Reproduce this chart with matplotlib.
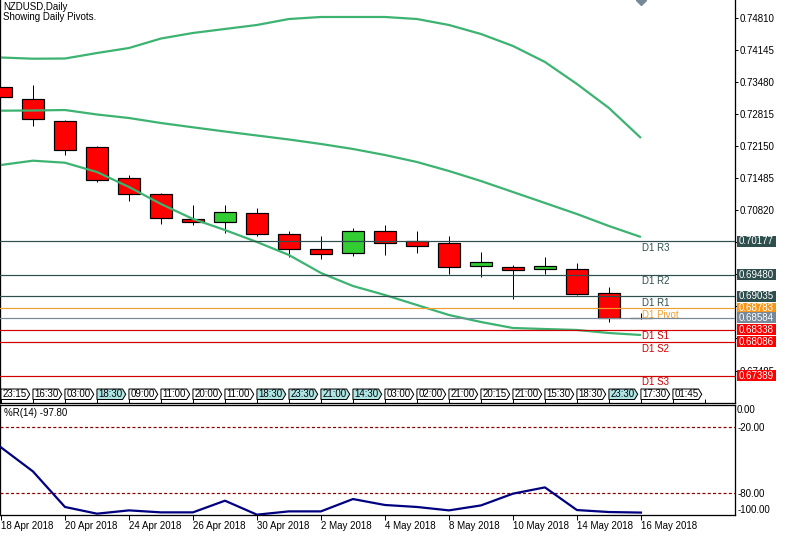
import matplotlib
matplotlib.use('Agg')
import matplotlib.pyplot as plt
import matplotlib.transforms as mtransforms
from matplotlib.patches import Polygon, Rectangle

plt.rcParams['font.family'] = ['Liberation Sans', 'DejaVu Sans']
plt.rcParams['lines.scale_dashes'] = False

# ---------------- data ----------------
bars = list(range(21))
opens = [0.73371, 0.73122, 0.72672, 0.72126, 0.71483, 0.71150, 0.70631, 0.70582, 0.70756, 0.70320,
         0.70009, 0.69926, 0.70389, 0.70175, 0.70133, 0.69656, 0.69635, 0.69593, 0.69593, 0.69095, 0.68584]
highs = [0.73380, 0.73419, 0.72693, 0.72153, 0.71551, 0.71184, 0.70928, 0.70928, 0.70866, 0.70395,
         0.70291, 0.70451, 0.70513, 0.70389, 0.70291, 0.69953, 0.69677, 0.69849, 0.69724, 0.69226, 0.68687]
lows = [0.73160, 0.72574, 0.71972, 0.71406, 0.71018, 0.70534, 0.70519, 0.70353, 0.70291, 0.69849,
        0.69807, 0.69876, 0.69890, 0.69926, 0.69502, 0.69440, 0.68983, 0.69496, 0.69060, 0.68506, 0.68560]
closes = [0.73164, 0.72707, 0.72064, 0.71441, 0.71150, 0.70652, 0.70582, 0.70789, 0.70320, 0.70009,
          0.69905, 0.70389, 0.70146, 0.70083, 0.69648, 0.69739, 0.69585, 0.69656, 0.69087, 0.68580, 0.68584]

band_upper = [0.73990, 0.73965, 0.73969, 0.74083, 0.74187, 0.74384, 0.74499, 0.74582, 0.74665, 0.74789,
              0.74831, 0.74831, 0.74831, 0.74789, 0.74665, 0.74478, 0.74229, 0.73897, 0.73440, 0.72942, 0.72319]
band_middle = [0.72886, 0.72890, 0.72900, 0.72807, 0.72734, 0.72630, 0.72541, 0.72454, 0.72371, 0.72288,
               0.72195, 0.72091, 0.71966, 0.71821, 0.71634, 0.71426, 0.71198, 0.70970, 0.70741, 0.70492, 0.70264]
band_lower = [0.71759, 0.71848, 0.71806, 0.71613, 0.71302, 0.70949, 0.70638, 0.70409, 0.70160, 0.69890,
              0.69517, 0.69247, 0.69060, 0.68852, 0.68645, 0.68500, 0.68375, 0.68354, 0.68334, 0.68271, 0.68230]

pivot_names = ['D1 R3', 'D1 R2', 'D1 R1', 'D1 Pivot', 'D1 S1', 'D1 S2', 'D1 S3']
pivot_values = [0.70177, 0.69480, 0.69035, 0.68783, 0.68338, 0.68086, 0.67389]
pivot_kinds = ['R', 'R', 'R', 'P', 'S', 'S', 'S']
bid_price = 0.68584

time_labels = ['23:15', '16:30', '03:00', '18:30', '09:00', '11:00', '20:00', '11:00', '18:30', '23:30', '21:00',
               '14:30', '03:00', '02:00', '21:00', '20:15', '21:00', '15:30', '18:30', '23:30', '17:30', '01:45']
time_highlight = [False, False, False, True, False, False, False, False, True, True, True,
                  True, False, False, False, False, False, False, False, True, False, False]

price_ticks = [0.74810, 0.74145, 0.73480, 0.72815, 0.72150, 0.71485, 0.70820, 0.70155,
               0.69490, 0.68825, 0.68160, 0.67485]
# tick labels that are hidden behind the level boxes in the reference are left blank
price_tick_labels = ['0.74810', '0.74145', '0.73480', '0.72815', '0.72150', '0.71485', '0.70820', '',
                     '', '', '', '0.67485']

wpr_values = [-38.5, -60.4, -92.7, -98.8, -95.8, -97.6, -97.6, -87.0, -99.7, -96.7, -96.7,
              -85.5, -90.9, -92.7, -95.8, -91.3, -80.6, -74.9, -95.5, -97.3, -97.8]
wpr_levels = [-20, -80]
wpr_ticks = [0, -20, -80, -100]
wpr_tick_labels = ['0.00', '-20.00', '-80.00', '-100.00']

date_ticks = [0, 2, 4, 6, 8, 10, 12, 14, 16, 18, 20]
date_labels = ['18 Apr 2018', '20 Apr 2018', '24 Apr 2018', '26 Apr 2018', '30 Apr 2018', '2 May 2018',
               '4 May 2018', '8 May 2018', '10 May 2018', '14 May 2018', '16 May 2018']

# ---------------- styles ----------------
W, H = 789, 538
FS = 7
RED = '#ff0000'
GREEN = '#32cd32'
BAND = '#3cb371'
R_COL = '#2f4f4f'
P_LINE = '#f0a030'
P_BG = '#f7981d'
S_LINE = '#d00000'
S_BG = '#ff0000'
BID = '#778899'
px_lw = 0.72

fig = plt.figure(figsize=(W / 100, H / 100), dpi=100)
fig.patch.set_facecolor('white')

ax = fig.add_axes([0, 1 - 403 / H, 735 / W, 403 / H])
ax2 = fig.add_axes([0, 1 - 515 / H, 735 / W, 110 / H])

y_top = 0.751836
y_bot = 0.668182
ax.set_ylim(y_bot, y_top)
ax.set_xlim(-0.03, 22.94)
ax2.set_xlim(-0.03, 22.94)
ax2.set_ylim(-100, 0)

# candles
for i in bars:
    o, h, l, c = opens[i], highs[i], lows[i], closes[i]
    ax.vlines(i, l, h, color='black', lw=px_lw, zorder=2)
    col = GREEN if c > o else RED
    ax.bar(i, c - o, bottom=o, width=0.69, color=col, edgecolor='black', linewidth=px_lw * 1.2, zorder=3)

# bands
for band in (band_upper, band_middle, band_lower):
    ax.plot(bars, band, color=BAND, lw=1.6, zorder=4, solid_capstyle='butt')

# pivot lines and labels
px_price = (y_top - y_bot) / 403.0
lbl_trans = mtransforms.blended_transform_factory(ax.transAxes, ax.transData)
for name, val, kind in zip(pivot_names, pivot_values, pivot_kinds):
    if kind == 'R':
        lc, bg, tc = R_COL, R_COL, R_COL
    elif kind == 'P':
        lc, bg, tc = P_LINE, P_BG, P_LINE
    else:
        lc, bg, tc = S_LINE, S_BG, S_LINE
    ax.axhline(val, color=lc, lw=px_lw * 1.2, zorder=5)
    ax.annotate(name, (20.0, val), xytext=(0.5, -1.2), textcoords='offset points',
                va='top', ha='left', fontsize=FS, color=tc, zorder=6)
ax.axhline(bid_price, color=BID, lw=px_lw * 1.2, zorder=5)

# price boxes on the right axis
box_items = [(v, (R_COL if k == 'R' else P_BG if k == 'P' else S_BG)) for v, k in zip(pivot_values, pivot_kinds)]
box_items.insert(4, (bid_price, BID))
for val, bg in box_items:
    rect = Rectangle((1 + 2 / 735, val - 5.5 * px_price), 39 / 735, 11 * px_price,
                     transform=lbl_trans, facecolor=bg, edgecolor='none', clip_on=False, zorder=20)
    ax.add_artist(rect)
    ax.text(1 + 21.5 / 735, val, f'{val:.5f}', transform=lbl_trans, ha='center', va='center',
            color='white', fontsize=FS, clip_on=False, zorder=21)

# time label boxes
xa = ax.get_xaxis_transform()
yb, yt = 0.0087, 0.0347
for i, (t, hl) in enumerate(zip(time_labels, time_highlight)):
    x0 = i
    pts = [(x0, yb), (x0, yt), (x0 + 0.80, yt), (x0 + 0.90, (yb + yt) / 2), (x0 + 0.80, yb)]
    poly = Polygon(pts, closed=True, transform=xa, facecolor='#b0e6e6' if hl else 'white',
                   edgecolor='black', lw=px_lw, zorder=7, clip_on=True)
    ax.add_patch(poly)
    ax.text(x0 + 0.42, (yb + yt) / 2, t, transform=xa, ha='center', va='center', fontsize=FS, zorder=8)

# gray marker at top
ax.plot([20], [y_top], marker='D', color=BID, markersize=5.5, clip_on=True, zorder=9)

# titles
ax.text(3 / 735, 1 - 1.5 / 403, 'NZDUSD,Daily', transform=ax.transAxes, va='top', ha='left', fontsize=FS)
ax.text(3 / 735, 1 - 12.5 / 403, 'Showing Daily Pivots.', transform=ax.transAxes, va='top', ha='left', fontsize=FS)

# main axis styling
ax.spines['top'].set_visible(False)
for s in ('left', 'right', 'bottom'):
    ax.spines[s].set_linewidth(px_lw * 1.3)
ax.yaxis.tick_right()
ax.set_yticks(price_ticks)
ax.set_yticklabels(price_tick_labels)
ax.tick_params(axis='y', direction='out', length=2.5, width=px_lw, pad=0.8, labelsize=FS)
ax.set_xticks(list(range(0, 23)))
ax.set_xticklabels([])
ax.tick_params(axis='x', direction='in', length=3, width=px_lw)

# ---------------- %R panel ----------------
ax2.plot(bars, wpr_values, color='#000080', lw=1.6, zorder=4)
for lv in wpr_levels:
    ax2.axhline(lv, color='#8b0000', lw=px_lw * 1.2, dashes=(2.2, 1.6), zorder=3)
ax2.text(4 / 735, 1 - 3 / 110, '%R(14) -97.80', transform=ax2.transAxes, va='top', ha='left', fontsize=FS)
ax2.yaxis.tick_right()
ax2.set_yticks(wpr_ticks)
ax2.set_yticklabels(wpr_tick_labels)
ax2.tick_params(axis='y', length=0, pad=1.5, labelsize=FS)
labs = ax2.get_yticklabels()
labs[0].set_va('top')
labs[-1].set_va('bottom')
ax2.set_xticks(date_ticks)
ax2.set_xticklabels(date_labels)
for lab in ax2.get_xticklabels():
    lab.set_ha('left')
ax2.tick_params(axis='x', direction='out', length=3.5, width=px_lw, pad=1.0, labelsize=FS)
for s in ax2.spines.values():
    s.set_linewidth(px_lw * 1.3)

fig.savefig('out.png', dpi=100, facecolor='white')
